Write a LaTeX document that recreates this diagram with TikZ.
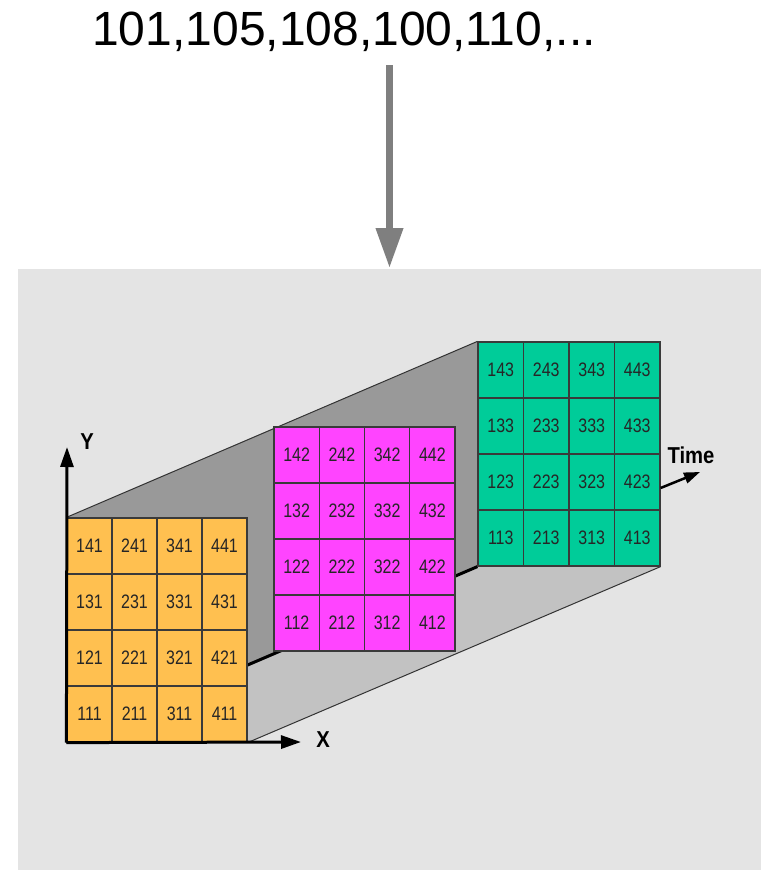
\documentclass[tikz,border=0pt]{standalone}
\usepackage{fontspec}
\setmainfont{Liberation Sans}
\newfontfamily\cellfont[FakeStretch=0.82]{Liberation Sans}
\newfontfamily\labfont[FakeStretch=0.88]{Liberation Sans}
\usetikzlibrary{arrows.meta,calc}
\definecolor{panelgray}{HTML}{E4E4E4}
\definecolor{wallgray}{HTML}{999999}
\definecolor{floorgray}{HTML}{C2C2C2}
\definecolor{orangec}{HTML}{FFC050}
\definecolor{pinkc}{HTML}{FF44FF}
\definecolor{greenc}{HTML}{00CC99}
\definecolor{gridline}{HTML}{3A3A3A}
\definecolor{arrowgray}{HTML}{7F7F7F}
\pgfdeclarelayer{back}
\pgfdeclarelayer{mid}
\pgfsetlayers{back,mid,main}
\tikzset{
  cell/.style={rectangle, draw=gridline, line width=1.2pt, minimum height=56pt,
    inner sep=0pt, font=\cellfont\fontsize{19.5}{19.5}\selectfont, text=black!85},
  axis/.style={line width=3pt, -{Triangle[width=13pt,length=20pt]}},
  edgeline/.style={line width=1pt, draw=black!80},
  biglabel/.style={font=\fontsize{48}{48}\selectfont, inner sep=0pt},
  axlabel/.style={font=\labfont\bfseries\fontsize{23}{23}\selectfont, inner sep=0pt}
}
\begin{document}
\begin{tikzpicture}[x=1pt,y=-1pt]
\useasboundingbox (0,0) rectangle (761,870);
\begin{pgfonlayer}{back}
  \fill[white] (0,0) rectangle (761,870);
  \fill[panelgray] (18,269) rectangle (761,870);
\end{pgfonlayer}

% grids
\foreach \t/\ox/\oy/\w/\col in {1/67/742/45/orangec, 2/274/651/45.25/pinkc, 3/478/566/45.5/greenc}{
  \foreach \i in {1,...,4}{
    \foreach \j in {1,...,4}{
      \node[cell, fill=\col, minimum width=\w pt] (c\i\j\t)
        at ({\ox+\w*(\i-0.5)}, {\oy-56*(\j-0.5)}) {\i\j\t};
    }
  }
}

% tunnel walls
\begin{pgfonlayer}{mid}
  \fill[wallgray] (c141.north west) -- (c143.north west) -- (c113.south west) -- (c111.south west) -- cycle;
  \fill[floorgray] (c111.south west) -- (c411.south east) -- (c413.south east) -- (c113.south west) -- cycle;
  \draw[edgeline] (c141.north west) -- (c143.north west);
  \draw[edgeline] (c411.south east) -- (c413.south east);
  \draw[line width=3pt] (c111.south west) -- (c113.south west);
\end{pgfonlayer}

% axes
\coordinate (ytip) at (67,447);
\coordinate (xtip) at (301,742);
\coordinate (ttip) at (700,472);
\draw[axis] (c111.south west) -- (ytip);
\draw[axis] (c111.south west) -- (xtip);
\draw[line width=2.5pt, -{Triangle[width=11pt,length=16pt]}] ($(c423.east)+(0,6)$) -- (ttip);
\node[axlabel] (ylab) at (87,442) {Y};
\node[axlabel] (xlab) at (323,740) {X};
\node[axlabel] (tlab) at (691,455) {Time};

% top sequence and arrow
\node[biglabel, anchor=base] (seq) at (344,45) {101,105,108,100,110,...};
\coordinate (a1) at (389.5,65);
\coordinate (a2) at (389.5,268);
\draw[arrowgray, line width=7pt, -{Triangle[width=26pt,length=40pt]}] (a1) -- (a2);
\end{tikzpicture}
\end{document}
